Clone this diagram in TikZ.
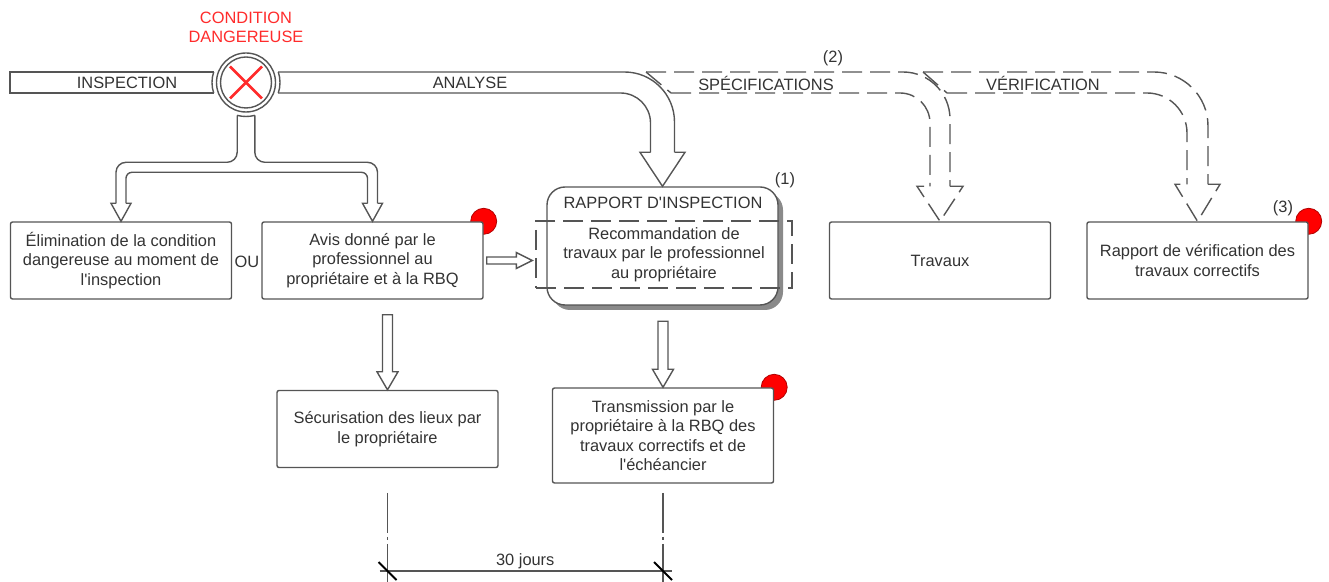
\documentclass[tikz,border=0pt]{standalone}
\usepackage{fontspec}
\newfontfamily\lib{Liberation Sans}
\usetikzlibrary{calc,shadows,backgrounds}

\definecolor{ln}{HTML}{555555}
\definecolor{txt}{HTML}{333333}
\definecolor{hot}{HTML}{FF2B2B}
\definecolor{shd}{HTML}{8A8A8A}

\tikzset{
  blk/.style={draw=ln, line width=0.7pt},
  dsh/.style={blk, dash pattern=on 10pt off 4pt},
  box/.style={blk, fill=white, rounded corners=1pt, inner sep=0pt, align=center,
    minimum width=110.5pt, minimum height=38.5pt},
  dot/.style={fill=red, draw=red!70!black, line width=0.4pt},
}

% 箭头头部: [样式]{尖端}{杆半宽}{头半宽}{头高}
\newcommand\arrhead[5][]{%
  \draw[blk,#1] ($(#2)+(#3,-#5)$) -- ($(#2)+(#4,-#5)$) -- (#2)
    -- ($(#2)+(-#4,-#5)$) -- ($(#2)+(-#3,-#5)$);}
% 向下的空心箭头: {尖端}{长度}
\newcommand\dnarrow[2]{%
  \draw[blk] ($(#1)+(-5,-18)$) -- ($(#1)+(-5,-#2)$) -- ($(#1)+(5,-#2)$)
    -- ($(#1)+(5,-18)$) -- ($(#1)+(10.5,-18)$) -- (#1)
    -- ($(#1)+(-10.5,-18)$) -- cycle;}

\begin{document}
\begin{tikzpicture}[x=0.5pt, y=-0.5pt,
    every node/.style={font=\lib\fontsize{8.2}{9.75}\selectfont, text=txt}]

    \useasboundingbox (0,0) rectangle (1329,582);

    % 画方框
    \node[box] (elim) at (121,260.5) {Élimination de la condition\\dangereuse au moment de\\l'inspection};
    \node[box] (avis) at (372.5,260.5) {Avis donné par le\\professionnel au\\propriétaire et à la RBQ};
    \node[box] (secur) at (387.5,429) {Sécurisation des lieux par\\le propriétaire};
    \node[box, minimum height=47.5pt] (transm) at (663,435.5) {Transmission par le\\propriétaire à la RBQ des\\travaux correctifs et de\\l'échéancier};
    \node[box] (travaux) at (940,260.5) {Travaux};
    \node[box] (verif) at (1197.5,260.5) {Rapport de vérification des\\travaux correctifs};
    \node (ou) at (247,262) {OU};

    % 报告
    \node[blk, fill=white, rounded corners=9pt, minimum width=115.5pt, minimum height=59pt,
      drop shadow={shadow xshift=2.5pt, shadow yshift=-2.5pt, fill=shd, opacity=1}] (rapport) at (662.5,246) {};
    \node (rtitle) at (663,203) {RAPPORT D'INSPECTION};
    \node[dsh, minimum width=128pt, minimum height=33.5pt, align=center, inner sep=0pt] (recom) at (664,254.5)
      {Recommandation de\\travaux par le professionnel\\au propriétaire};

    % 红点
    \begin{scope}[on background layer]
      \draw[dot] (avis.north east) circle[radius=13];
      \draw[dot] (transm.north east) circle[radius=13];
      \draw[dot] (verif.north east) circle[radius=13];
    \end{scope}

    % 编号
    \node at (785,180) {(1)};
    \node at (833,58) {(2)};
    \node at (1283,208) {(3)};

    % 危险状况
    \node[circle, blk, fill=white, minimum size=29.5pt, inner sep=0pt] (danger) at (246,82.5) {};
    \draw[blk] (danger.center) circle[radius=25.5];
    \draw[hot, line width=1.4pt] ($(danger)+(-16,-16)$) -- ($(danger)+(16,16)$);
    \draw[hot, line width=1.4pt] ($(danger)+(16,-16)$) -- ($(danger)+(-16,16)$);
    \node[text=hot, align=center] (cond) at (246,27.5) {CONDITION\\DANGEREUSE};

    % INSPECTION
    \draw[blk] (214,72) -- (10,72) -- (10,93) -- (214,93);
    \draw[blk] (danger.center) ++(162:34) arc[start angle=162, end angle=198, radius=34];
    \node (lins) at (127,83) {INSPECTION};

    % ANALYSE
    \draw[blk] (danger.center) ++(-18:34) arc[start angle=-18, end angle=18, radius=34];
    \draw[blk, rounded corners=25pt] (278,72) -| ($(rapport.north)+(12,-34)$);
    \draw[blk, rounded corners=15pt] (278,93) -| ($(rapport.north)+(-12,-34)$);
    \arrhead{rapport.north}{12}{22.5}{34}
    \node (lana) at (470,83) {ANALYSE};

    % SPÉCIFICATIONS
    \draw[dsh] (646,72) -- (671,93);
    \draw[dsh, rounded corners=23.5pt] (646,72) -| ($(travaux.north)+(10,-35)$);
    \draw[dsh, rounded corners=15pt] (671,93) -| ($(travaux.north)+(-10,-35)$);
    \arrhead[dsh]{travaux.north}{10}{23}{35}
    \node (lspe) at (766,83) {SPÉCIFICATIONS};

    % VÉRIFICATION
    \draw[dsh] (923,72) -- (947,93);
    \draw[dsh, rounded corners=27pt] (923,72) -| ($(verif.north)+(10.5,-37)$);
    \draw[dsh, rounded corners=20pt] (947,93) -| ($(verif.north)+(-10.5,-37)$);
    \arrhead[dsh]{verif.north}{10.5}{22.5}{37}
    \node (lver) at (1043,83) {VÉRIFICATION};

    % 分叉箭头
    \draw[blk] (danger.center) ++(75:34) arc[start angle=75, end angle=105, radius=34];
    \draw[blk, rounded corners=5pt] ($(danger.center)+(-8.8,32.8)$) |- ($(elim.north)+(-5,-59)$) -- ($(elim.north)+(-5,-18)$);
    \draw[blk, rounded corners=5pt] ($(danger.center)+(8.8,32.8)$) |- ($(avis.north)+(5,-59)$) -- ($(avis.north)+(5,-18)$);
    \draw[blk, rounded corners=3pt] ($(elim.north)+(5,-18)$) |- ($(avis.north)+(-5,-49)$) -- ($(avis.north)+(-5,-18)$);
    \arrhead{elim.north}{5}{10}{18}
    \arrhead{avis.north}{5}{10}{18}

    % 直箭头
    \coordinate (tipr) at ($(recom.west |- avis.east)+(-3,0)$);
    \draw[blk] ($(avis.east)+(3,-3.5)$) -- ($(tipr)+(-16,-3.5)$) -- ($(tipr)+(-16,-8)$) -- (tipr)
      -- ($(tipr)+(-16,8)$) -- ($(tipr)+(-16,3.5)$) -- ($(avis.east)+(3,3.5)$) -- cycle;
    \dnarrow{secur.north}{75}
    \dnarrow{transm.north}{66}

    % 30 天
    \draw[ln, line width=0.6pt, dash pattern=on 20pt off 2pt on 1.5pt off 2pt] (secur.south |- 0,493) -- (secur.south |- 0,582);
    \draw[ln, line width=0.6pt, dash pattern=on 20pt off 2pt on 1.5pt off 2pt] (transm.south |- 0,493) -- (transm.south |- 0,582);
    \coordinate (m1) at (secur.south |- 0,571);
    \coordinate (m2) at (transm.south |- 0,571);
    \draw[ln, line width=0.6pt] ($(m1)+(-8,0)$) -- ($(m2)+(9,0)$);
    \draw[black, line width=0.9pt] ($(m1)+(-9,-9)$) -- ($(m1)+(9,9)$);
    \draw[black, line width=0.9pt] ($(m2)+(-9,-9)$) -- ($(m2)+(9,9)$);
    \node (jours) at ($(m1)!0.5!(m2)+(0,-10)$) {30 jours};

\end{tikzpicture}
\end{document}
